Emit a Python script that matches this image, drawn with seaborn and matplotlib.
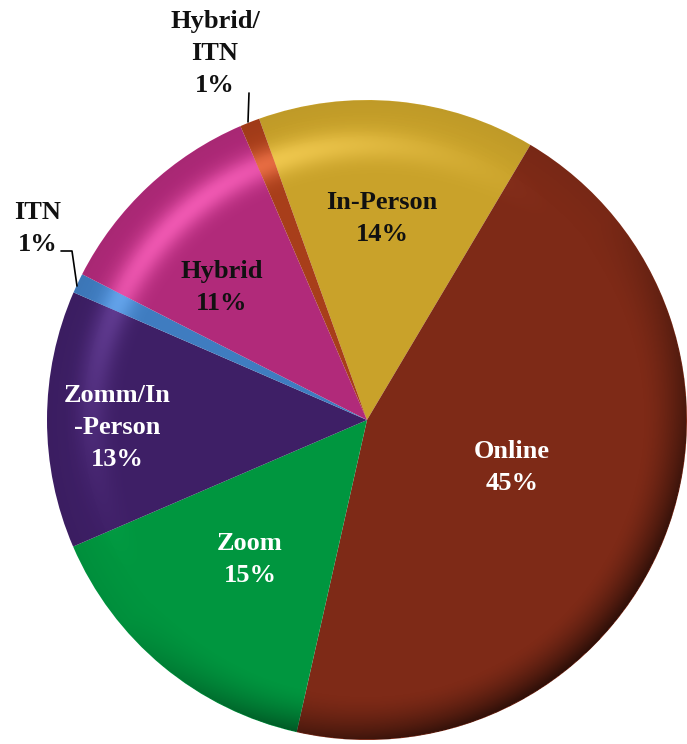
import numpy as np
import matplotlib
matplotlib.use("Agg")
import matplotlib.pyplot as plt
import seaborn as sns
import colorsys
from matplotlib.colors import to_rgb
from matplotlib.patches import Circle

sns.set_theme(style="white")
plt.rcParams['font.family'] = ['Liberation Serif', 'DejaVu Serif']

categories = ["In-Person", "Online", "Zoom", "Zomm/In\n-Person", "ITN", "Hybrid", "Hybrid/\nITN"]
values = [14, 45, 15, 13, 1, 11, 1]
colors = ["#C9A22A", "#7E2A17", "#00963F", "#3E1F66", "#3F7CC0", "#B12A7A", "#A83E1A"]

W, H = 687, 744
CX, CY, R = 367, 420, 320

def px(x, y):
    return ((x - CX) / R, (CY - y) / R)

def light(c):
    h, s, v = colorsys.rgb_to_hsv(*to_rgb(c))
    return colorsys.hsv_to_rgb(h, s * 0.8, min(1.0, v * 1.45 + 0.08))

fig = plt.figure(figsize=(W / 100, H / 100), dpi=100)
ax = fig.add_axes([0, 0, 1, 1])

wedges, _ = ax.pie(values, colors=colors, startangle=109.7, counterclock=False,
                   radius=1.0, center=(0, 0), wedgeprops=dict(linewidth=0),
                   frame=True)
ax.set_xlim(-CX / R, (W - CX) / R)
ax.set_ylim(-(H - CY) / R, CY / R)
ax.set_aspect("equal")
ax.axis("off")

# 3D-like shading overlays
n = 700
g = np.linspace(-1, 1, n)
X, Y = np.meshgrid(g, g[::-1])
Rr = np.sqrt(X**2 + Y**2)
ang = np.arctan2(Y, X)
inside = Rr <= 1

# saturated highlight band at upper left, per wedge colour
dirhl = np.clip(np.cos(ang - np.deg2rad(130)), 0, 1) ** 2.2
hl = np.exp(-((Rr - 0.86) / 0.05) ** 2) * 0.8 * dirhl
for w, c in zip(wedges, colors):
    img = np.zeros((n, n, 4))
    img[..., :3] = light(c)
    img[..., 3] = np.where(inside, hl, 0)
    im = ax.imshow(img, extent=(-1, 1, -1, 1), zorder=3, interpolation="bilinear")
    im.set_clip_path(w)

# dark rim, strongest at lower right
dirdark = 0.08 + 0.92 * np.clip(np.cos(ang - np.deg2rad(-50)), 0, 1)
dark = np.clip((Rr - 0.86) / 0.14, 0, 1) ** 1.6 * 0.65 * dirdark
dk = np.zeros((n, n, 4))
dk[..., 3] = np.where(inside, dark, 0)
im1 = ax.imshow(dk, extent=(-1, 1, -1, 1), zorder=3, interpolation="bilinear")
im1.set_clip_path(Circle((0, 0), 1.0, transform=ax.transData))

fs = 19
ls = 1.5
inner = [
    ((382, 218), "In-Person\n14%", "#111111"),
    ((512, 467), "Online\n45%", "white"),
    ((250, 559), "Zoom\n15%", "white"),
    ((117, 427), "Zomm/In\n-Person\n13%", "white"),
    ((222, 287), "Hybrid\n11%", "#111111"),
]
for (x, y), t, c in inner:
    ax.text(*px(x, y), t, ha="center", va="center", fontsize=fs, fontweight="bold",
            color=c, linespacing=ls, zorder=5)

# outer labels with leader lines
ax.text(*px(215, 53), "Hybrid/\nITN\n1%", ha="center", va="center", fontsize=fs,
        fontweight="bold", color="#111111", linespacing=ls, zorder=5)
ax.plot(*zip(px(249, 93), px(248, 122)), color="black", lw=1.2, zorder=5)
ax.text(*px(38, 228), "ITN\n1%", ha="center", va="center", fontsize=fs,
        fontweight="bold", color="#111111", linespacing=ls, zorder=5)
ax.plot(*zip(px(61, 251), px(72, 251), px(77, 286)), color="black", lw=1.2, zorder=5)

fig.savefig("out.png", dpi=100)
